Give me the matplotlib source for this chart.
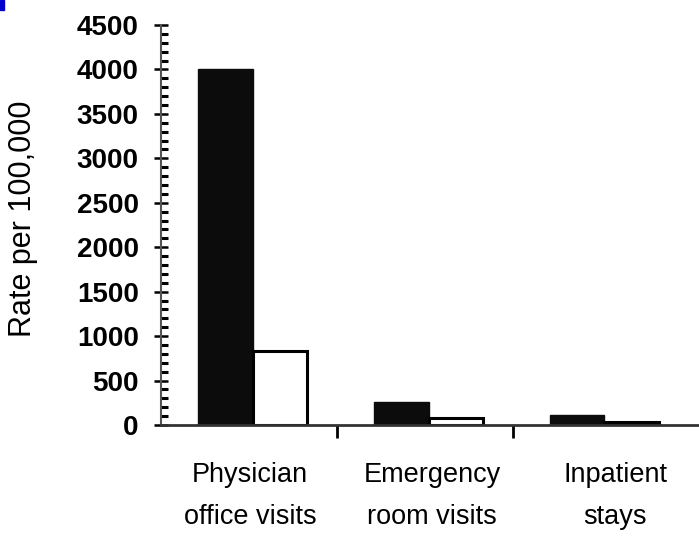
import numpy as np
import matplotlib.pyplot as plt
from matplotlib.ticker import MultipleLocator
from matplotlib.patches import Rectangle

plt.rcParams['font.family'] = ['Liberation Sans', 'DejaVu Sans']

categories = ['Physician\noffice visits', 'Emergency\nroom visits', 'Inpatient\nstays']
dark_values = [4000, 260, 110]
white_values = [830, 80, 35]

fig = plt.figure(figsize=(6.99, 5.39), dpi=100)
ax = fig.add_axes([161 / 699, 1 - 425 / 539, 538 / 699, 400 / 539])

x = np.arange(len(categories))
w = 0.31
ax.bar(x - w / 2 + 0.02, dark_values, w, color='#0c0c0c', edgecolor='#0c0c0c', linewidth=1)
ax.bar(x + w / 2 + 0.02, white_values, w, color='white', edgecolor='black', linewidth=2.2)

ax.set_xlim(-0.5, 2.557)
ax.set_ylim(0, 4500)

for s in ['top', 'right']:
    ax.spines[s].set_visible(False)
ax.spines['left'].set_color('#555555')
ax.spines['left'].set_linewidth(1.5)
ax.spines['bottom'].set_color('#333333')
ax.spines['bottom'].set_linewidth(2)

ax.yaxis.set_major_locator(MultipleLocator(500))
ax.yaxis.set_minor_locator(MultipleLocator(100))
ax.tick_params(axis='y', which='major', direction='inout', length=10, width=1.8,
               labelsize=20, pad=11)
ax.tick_params(axis='y', which='minor', direction='in', length=5, width=2.2)
for lbl in ax.get_yticklabels():
    lbl.set_fontweight('bold')

# category labels sit a little right of the bar groups in the original
ax.set_xticks([0.5, 1.5])
ax.set_xticks([0.006, 1.04, 2.08], minor=True)
ax.set_xticklabels(['', ''])
ax.set_xticklabels(categories, minor=True, fontsize=19.5, linespacing=1.8)
ax.tick_params(axis='x', which='major', direction='out', length=9, width=2)
ax.tick_params(axis='x', which='minor', length=0, pad=27)

ax.set_ylabel('Rate per 100,000', fontsize=22)
ax.yaxis.set_label_coords((38 - 161) / 538, 0.515)

fig.patches.append(Rectangle((0, 1 - 10 / 539), 4 / 699, 10 / 539,
                             transform=fig.transFigure, color='#0000cc'))

fig.savefig('out.png', dpi=100)
